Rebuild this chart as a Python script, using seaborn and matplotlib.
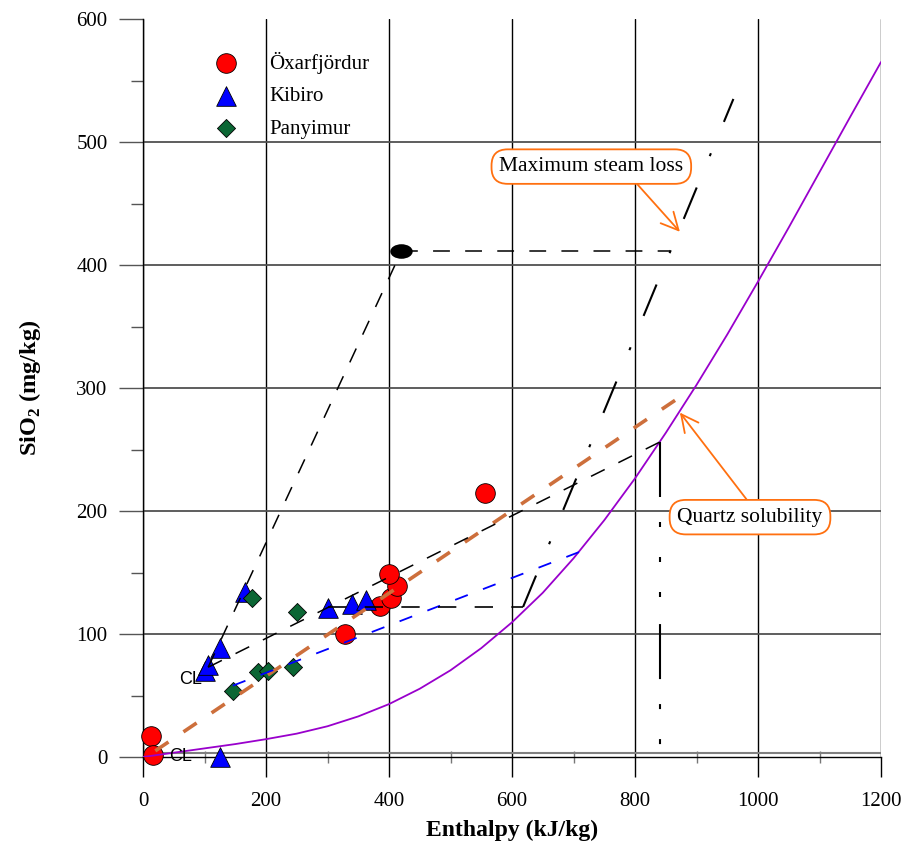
import numpy as np
import pandas as pd
import matplotlib
matplotlib.use("Agg")
import matplotlib.pyplot as plt
from matplotlib.path import Path
from matplotlib.ticker import MultipleLocator
import seaborn as sns

# ---------------- data ----------------
oxar_h = [13, 16, 328, 385, 403, 413, 400, 556]
oxar_si = [17, 2, 100, 123, 129, 139, 149, 215]

kibiro_h = [126, 101, 106, 125, 166, 301, 340, 362]
kibiro_si = [0, 70, 75, 89, 134, 121, 124, 128]

pany_h = [146, 187, 203, 244, 177, 251]
pany_si = [54, 69, 70, 73, 129, 118]

site_names = ["Öxarfjördur", "Kibiro", "Panyimur"]

# quartz solubility curve
quartz_h = [0, 50, 100, 150, 200, 250, 300, 350, 400, 450, 500, 550, 600, 650,
            700, 750, 800, 850, 900, 950, 1000, 1050, 1100, 1150, 1200]
quartz_si = [0, 3.5, 7, 10.5, 14.5, 19, 25, 33, 43, 55.5, 70.5, 88.5, 109.5, 133.5,
             161.5, 192.5, 226.5, 263.5, 302.5, 343.5, 386.5, 430.5, 475.5, 520.5, 565]

# mixing / boiling construction lines
cl_h, cl_si = 106, 73
steam_h, steam_si = 420, 411
line_a_h = [cl_h, steam_h]; line_a_si = [cl_si, steam_si]
line_b_h = [steam_h, 857]; line_b_si = [steam_si, steam_si]
line_c_h = [cl_h, 840]; line_c_si = [cl_si, 256]
line_d_h = [840, 840]; line_d_si = [256, 0]
line_e_h = [301, 618]; line_e_si = [122, 122]
line_f_h = [618, 960]; line_f_si = [122, 535]
blue_h = [146, 711]; blue_si = [58, 167]
orange_h = [20, 880]; orange_si = [5, 295]

x_ticks = [0, 200, 400, 600, 800, 1000, 1200]
y_ticks = [0, 100, 200, 300, 400, 500, 600]

# ---------------- style ----------------
sns.set_theme(style="white")
plt.rcParams["font.family"] = ["Liberation Serif", "DejaVu Serif"]
plt.rcParams["mathtext.fontset"] = "custom"
plt.rcParams["mathtext.rm"] = "Liberation Serif"
plt.rcParams["mathtext.bf"] = "Liberation Serif:bold"
for k in ["text.color", "axes.labelcolor", "xtick.labelcolor", "ytick.labelcolor"]:
    plt.rcParams[k] = "black"

fig = plt.figure(figsize=(9.09, 8.43), dpi=100)
ax = fig.add_axes([143 / 909, 1 - 757 / 843, 738 / 909, 738 / 843])

ax.set_xlim(0, 1200)
ax.set_ylim(0, 600)

# grid
for xv in x_ticks:
    ax.axvline(xv, color="black", lw=1.0, zorder=0.5)
for yv in y_ticks[1:-1]:
    ax.axhline(yv, color="#505050", lw=1.3, zorder=0.5)
ax.axhline(3.3, color="#808080", lw=1.5, zorder=0.6)

# ---------------- scatter ----------------
df = pd.DataFrame({
    "h": oxar_h + kibiro_h + pany_h,
    "si": oxar_si + kibiro_si + pany_si,
    "site": [site_names[0]] * len(oxar_h) + [site_names[1]] * len(kibiro_h)
            + [site_names[2]] * len(pany_h),
})
marker_map = {site_names[0]: "o", site_names[1]: "^", site_names[2]: "D"}
color_map = {site_names[0]: "#FF0000", site_names[1]: "#0000FF", site_names[2]: "#0B6634"}
size_map = {site_names[0]: 200, site_names[1]: 200, site_names[2]: 85}
for s in site_names:
    sub = df[df["site"] == s]
    sns.scatterplot(data=sub, x="h", y="si", ax=ax, marker=marker_map[s],
                    color=color_map[s], s=size_map[s], edgecolor="black",
                    linewidth=0.6, label=s, zorder=3, clip_on=False)

# ---------------- lines ----------------
def draw(xs, ys, **kw):
    sns.lineplot(x=xs, y=ys, ax=ax, estimator=None, sort=False, legend=False, **kw)

draw(quartz_h, quartz_si, color="#9900CC", lw=1.3, zorder=4)
draw(orange_h, orange_si, color="#CD6F3C", lw=2.6, linestyle=(0, (4.4, 5.0)), zorder=4)
draw(blue_h, blue_si, color="#0000FF", lw=1.3, linestyle=(0, (7.5, 9.0)), zorder=4)
draw(line_a_h, line_a_si, color="black", lw=1.1, linestyle=(0, (10, 10)), zorder=4)
draw(line_b_h, line_b_si, color="black", lw=1.1, linestyle=(0, (11, 10)), zorder=4)
draw(line_c_h, line_c_si, color="black", lw=1.1, linestyle=(0, (10, 10)), zorder=4)
draw(line_e_h, line_e_si, color="black", lw=1.2, linestyle=(0, (11, 11)), zorder=4)
draw(line_d_h, line_d_si, color="black", lw=1.5,
     linestyle=(0, (26.4, 12, 2.4, 14.4, 2.4, 14.4, 2.4, 13)), zorder=4)
draw(line_f_h, line_f_si, color="black", lw=1.5,
     linestyle=(0, (16.3, 16.3, 1.5, 16.3)), zorder=4)

# steam point (ellipse marker)
ell = Path.unit_circle().transformed(matplotlib.transforms.Affine2D().scale(1.0, 0.65))
sns.scatterplot(x=[steam_h], y=[steam_si], ax=ax, marker=ell, s=260, color="black",
                edgecolor="black", linewidth=0, zorder=5, legend=False)

# CL labels
ax.text(58, 63, "CL", family=["Liberation Sans"], fontsize=13, va="center", ha="left", zorder=6)
ax.text(42, 0.5, "CL", family=["Liberation Sans"], fontsize=13, va="center", ha="left", zorder=6)

# annotations
acol = "#FF7010"
box = dict(boxstyle="round,pad=0.36,rounding_size=0.75", fc="white", ec=acol, lw=1.3)
ax.annotate("Maximum steam loss", xy=(873, 427), xytext=(729, 480), textcoords="data",
            ha="center", va="center", fontsize=15.5, zorder=7, bbox=box,
            arrowprops=dict(arrowstyle="->,head_length=0.8,head_width=0.4", color=acol,
                            lw=1.3, relpos=(0.71, 0.0), shrinkA=0, shrinkB=0))
ax.annotate("Quartz solubility", xy=(873, 280), xytext=(987, 195), textcoords="data",
            ha="center", va="center", fontsize=15.5, zorder=7, bbox=box,
            arrowprops=dict(arrowstyle="->,head_length=0.8,head_width=0.4", color=acol,
                            lw=1.3, relpos=(0.52, 1.0), shrinkA=0, shrinkB=0))

# ---------------- axes ----------------
for side in ["top", "right"]:
    ax.spines[side].set_visible(False)
for side in ["left", "bottom"]:
    ax.spines[side].set_color("black")
    ax.spines[side].set_linewidth(1.0)

ax.set_xticks(x_ticks)
ax.set_yticks(y_ticks)
ax.xaxis.set_minor_locator(MultipleLocator(100))
ax.yaxis.set_minor_locator(MultipleLocator(50))
ax.tick_params(axis="x", which="major", direction="out", length=14.4, width=1.0,
               color="black", pad=10.5, labelsize=15, bottom=True)
ax.tick_params(axis="x", which="minor", direction="inout", length=8.6, width=1.0,
               color="#777777", bottom=True)
ax.tick_params(axis="y", which="major", direction="out", length=17, width=1.0,
               color="#555555", pad=8.5, labelsize=15, left=True)
ax.tick_params(axis="y", which="minor", direction="out", length=8.6, width=1.0,
               color="#555555", left=True)

ax.set_xlabel("Enthalpy (kJ/kg)", fontsize=17, fontweight="bold", labelpad=7)
ax.set_ylabel(r"SiO$_\mathbf{2}$ (mg/kg)", fontsize=17.5, fontweight="bold", labelpad=24)

# legend
handles, labels = ax.get_legend_handles_labels()
hl = [(h, l) for h, l in zip(handles, labels) if l in site_names]
ax.legend([h for h, _ in hl], [l for _, l in hl], loc="upper left",
          bbox_to_anchor=(0.085, 0.956), frameon=False, fontsize=15,
          borderpad=0, borderaxespad=0, handlelength=1.9, handletextpad=1.15,
          labelspacing=0.62)

fig.savefig("out.png", dpi=100)
